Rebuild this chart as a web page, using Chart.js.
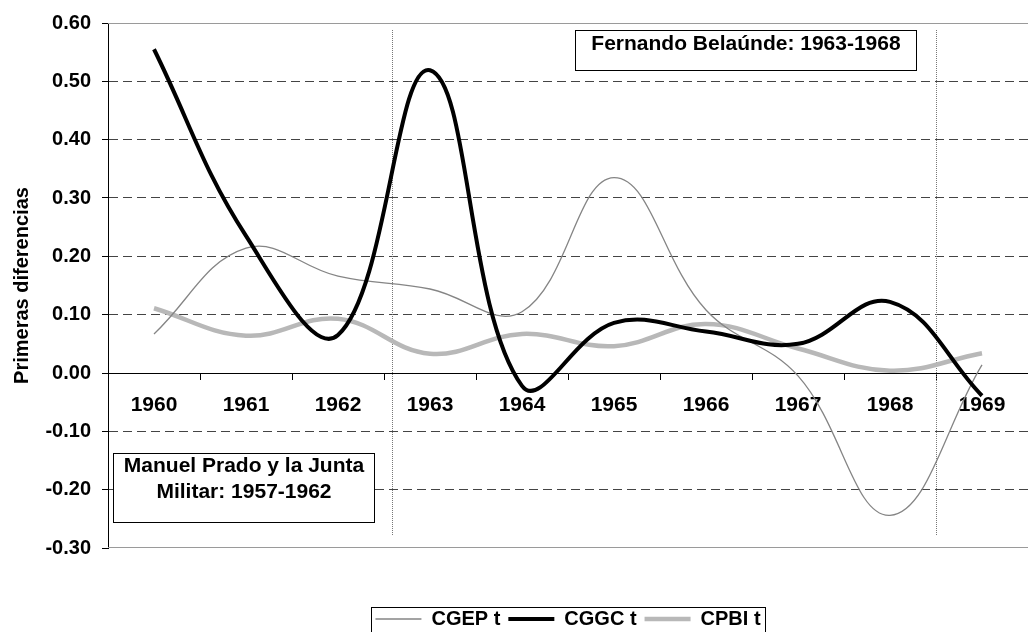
<!DOCTYPE html>
<html>
<head>
<meta charset="utf-8">
<script src="https://cdn.jsdelivr.net/npm/chart.js@4.4.0/dist/chart.umd.min.js"></script>
<style>
html, body { margin: 0; padding: 0; background: #fff; overflow: hidden; }
</style>
</head>
<body>
<canvas id="chart" width="1028" height="632"></canvas>
<script>
// categories and series (primeras diferencias)
var years = ['1960', '1961', '1962', '1963', '1964', '1965', '1966', '1967', '1968', '1969'];
var cgep = [0.067, 0.214, 0.166, 0.144, 0.105, 0.335, 0.108, -0.005, -0.244, 0.014];
var cggc = [0.555, 0.235, 0.065, 0.519, -0.022, 0.086, 0.071, 0.050, 0.122, -0.039];
var cpbi = [0.111, 0.064, 0.093, 0.033, 0.067, 0.046, 0.084, 0.042, 0.004, 0.034];

var yTicks = [-0.3, -0.2, -0.1, 0, 0.1, 0.2, 0.3, 0.4, 0.5, 0.6];

// government periods, in category index / value units
var periodLines = [2.59, 8.5];
var periodLineTop = 0.588;
var periodLineBottom = -0.278;

var notes = [
    { lines: ['Fernando Belaúnde: 1963-1968'], x0: 4.58, x1: 8.28, y0: 0.588, y1: 0.519, textY: [0.564] },
    { lines: ['Manuel Prado y la Junta', 'Militar: 1957-1962'], x0: -0.446, x1: 2.394, y0: -0.1365, y1: -0.256, textY: [-0.159, -0.2035] }
];

var FONT = "'Liberation Sans', Arial, Helvetica, sans-serif";
Chart.defaults.font.family = FONT;
Chart.defaults.color = '#000';


var PeriodPlugin = {
    id: 'periodPlugin',

    beforeDatasetsDraw: function (chart) {
        var ctx = chart.ctx;
        var area = chart.chartArea;
        var xs = chart.scales.x;
        var ys = chart.scales.y;
        ctx.save();

        // plot frame (top / bottom)
        ctx.strokeStyle = '#9a9a9a';
        ctx.lineWidth = 1;
        ctx.beginPath();
        ctx.moveTo(area.left, Math.round(area.top) + 0.5);
        ctx.lineTo(area.right, Math.round(area.top) + 0.5);
        ctx.moveTo(area.left, Math.round(area.bottom) - 0.5);
        ctx.lineTo(area.right, Math.round(area.bottom) - 0.5);
        ctx.stroke();

        // dotted separators between periods
        ctx.strokeStyle = '#777';
        ctx.setLineDash([1, 1]);
        for (var i = 0; i < periodLines.length; ++i) {
            var px = Math.round(xs.getPixelForValue(periodLines[i])) + 0.5;
            ctx.beginPath();
            ctx.moveTo(px, ys.getPixelForValue(periodLineTop));
            ctx.lineTo(px, ys.getPixelForValue(periodLineBottom));
            ctx.stroke();
        }
        ctx.restore();
    },

    afterDatasetsDraw: function (chart) {
        var ctx = chart.ctx;
        var xs = chart.scales.x;
        var ys = chart.scales.y;
        ctx.save();
        for (var i = 0; i < notes.length; ++i) {
            var n = notes[i];
            var left = Math.round(xs.getPixelForValue(n.x0)) + 0.5;
            var right = Math.round(xs.getPixelForValue(n.x1)) + 0.5;
            var top = Math.round(ys.getPixelForValue(n.y0)) + 0.5;
            var bottom = Math.round(ys.getPixelForValue(n.y1)) + 0.5;
            ctx.fillStyle = '#fff';
            ctx.fillRect(left, top, right - left, bottom - top);
            ctx.strokeStyle = '#000';
            ctx.lineWidth = 1;
            ctx.strokeRect(left, top, right - left, bottom - top);

            ctx.fillStyle = '#000';
            ctx.font = 'bold 21px ' + FONT;
            ctx.textAlign = 'center';
            ctx.textBaseline = 'middle';
            for (var k = 0; k < n.lines.length; ++k) {
                ctx.fillText(n.lines[k], (left + right) / 2, ys.getPixelForValue(n.textY[k]));
            }
        }
        ctx.restore();
    },

    afterDraw: function (chart) {
        // frame round the legend
        var boxes = chart.legend.legendHitBoxes;
        if (!boxes || !boxes.length) return;
        var first = boxes[0];
        var last = boxes[boxes.length - 1];
        var ctx = chart.ctx;
        ctx.save();
        ctx.strokeStyle = '#000';
        ctx.lineWidth = 1;
        var l = Math.round(first.left - 4) + 0.5;
        var r = Math.round(last.left + last.width + 4) + 0.5;
        var t = Math.round(first.top - 2) + 0.5;
        ctx.strokeRect(l, t, r - l, 60);
        ctx.restore();
    }
};


new Chart(document.getElementById('chart'), {
    type: 'line',
    data: {
        labels: years,
        datasets: [
            {
                label: 'CGEP t',
                data: cgep,
                borderColor: '#858585',
                backgroundColor: '#858585',
                borderWidth: 1.3,
                pointRadius: 0,
                tension: 0.4,
                order: 1
            },
            {
                label: 'CGGC t',
                data: cggc,
                borderColor: '#000000',
                backgroundColor: '#000000',
                borderWidth: 4,
                pointRadius: 0,
                tension: 0.4,
                order: 0
            },
            {
                label: 'CPBI t',
                data: cpbi,
                borderColor: '#b8b8b8',
                backgroundColor: '#b8b8b8',
                borderWidth: 4.5,
                pointRadius: 0,
                tension: 0.4,
                order: 2
            }
        ]
    },
    options: {
        responsive: false,
        animation: false,
        layout: { padding: { top: 21, right: -13, bottom: -7, left: 0 } },
        scales: {
            x: {
                type: 'category',
                position: { y: 0 },
                offset: true,
                grid: { display: true, drawOnChartArea: false, drawTicks: true, tickLength: 6, offset: true, color: '#000', tickColor: '#000' },
                border: { display: true, color: '#000', width: 1 },
                ticks: { font: { size: 21, weight: 'bold' }, color: '#000', padding: 14, maxRotation: 0, autoSkip: false }
            },
            spacer: {
                type: 'category',
                axis: 'x',
                position: 'bottom',
                grid: { display: false, drawTicks: false },
                border: { display: false },
                ticks: { display: false },
                afterFit: function (scale) { scale.height = 53; }
            },
            y: {
                type: 'linear',
                min: -0.3,
                max: 0.6,
                afterBuildTicks: function (scale) {
                    scale.ticks = yTicks.map(function (v) { return { value: v }; });
                },
                ticks: {
                    font: { size: 20, weight: 'bold' },
                    color: '#000',
                    padding: 11,
                    callback: function (v) { return Number(v).toFixed(2); }
                },
                grid: {
                    color: function (c) {
                        if (c.tick && Math.abs(c.tick.value + 0.3) < 1e-9) return 'rgba(0,0,0,0)';
                        return '#444';
                    },
                    drawTicks: true,
                    tickLength: 6,
                    tickColor: '#000',
                    tickBorderDash: []
                },
                border: { display: true, color: '#000', width: 1, dash: [9, 5] },
                title: {
                    display: true,
                    text: 'Primeras diferencias',
                    font: { size: 20, weight: 'bold' },
                    color: '#000',
                    padding: { top: 10, bottom: 0 }
                },
                afterFit: function (scale) { scale.width = 108; }
            }
        },
        plugins: {
            legend: {
                position: 'bottom',
                fullSize: false,
                labels: {
                    boxWidth: 46,
                    boxHeight: 0,
                    padding: 8,
                    font: { size: 20, weight: 'bold' },
                    color: '#000',
                    sort: function (a, b) { return a.datasetIndex - b.datasetIndex; }
                }
            },
            tooltip: { enabled: false }
        }
    },
    plugins: [PeriodPlugin]
});
</script>
</body>
</html>
